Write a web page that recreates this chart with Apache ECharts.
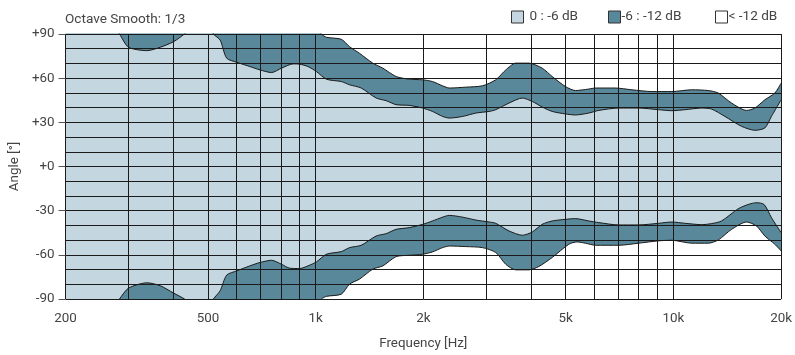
<!DOCTYPE html>
<html><head><meta charset="utf-8">
<script src="https://cdn.jsdelivr.net/npm/echarts@6/dist/echarts.min.js"></script>
<style>html,body{margin:0;padding:0;background:#fff}#c{width:795px;height:355px}</style>
</head><body><div id="c"></div>
<script>
// Upper -12 dB contour
const u12Freq  = [200,1000,1038,1072,1180,1244,1326,1445,1541,1679,1828,1991,2122,2264,2364,2630,2926,3188,3400,3624,3948,4298,4585,4994,5326,5800,6055,6884,7656,8706,9898,11252,12522,13350,14540,16014,16896,18014,19210,20000];
const u12Angle = [100,95,90,87.8,86.4,81.4,76.9,70.2,66.8,61.1,59.3,58.9,57.7,54.8,53.3,53.9,54.8,58.9,65.6,70.2,70.2,66.8,61.1,54.3,51.6,52.6,53.3,53.3,52.1,50.9,50.9,52.1,51.6,49.9,43.1,38.1,39.7,45.3,49.9,56.6];
// Upper -6 dB contour
const u6Freq  = [200,270,283,300,338,368,401,430,470,500,518,541,564,602,655,699,753,803,865,903,952,1005,1072,1180,1244,1341,1477,1575,1679,1828,1991,2122,2264,2364,2575,2806,3054,3188,3473,3782,4032,4298,4585,4994,5326,5800,6186,7033,7993,9088,9898,10786,11996,12790,13936,15502,16896,18014,18794,20000];
const u6Angle = [100,97,90,81.0,78.7,81.0,84.8,90,97,97,90,85.9,73.6,70.8,67.9,65.6,63.8,66.8,69.7,69.5,67.9,64.5,59.3,57.7,55.5,53.3,46.5,44.7,42.0,41.5,39.7,37.4,34.0,32.9,34.0,36.3,37.4,38.6,43.1,46.5,44.2,40.4,37.4,35.7,35.0,36.3,38.1,39.7,39.7,38.6,37.9,38.6,39.7,39.0,34.0,27.3,24.6,26.2,34.0,45.3];
// Lower -6 dB contour
const l6Freq  = [200,270,283,300,338,368,401,430,470,500,518,541,564,602,655,699,753,803,847,903,952,1005,1072,1180,1244,1341,1477,1575,1679,1828,1991,2122,2264,2364,2575,2806,3054,3188,3473,3782,4032,4298,4585,4994,5326,5800,6186,7033,7993,9088,9898,10786,11996,12790,13636,15176,16186,17070,17932,18794,20000];
const l6Angle = [-100,-97,-90,-82.6,-79.0,-81.0,-86.0,-90,-97,-97,-90,-84.4,-73.8,-70.9,-67.5,-65.2,-63.7,-66.4,-69.1,-69.3,-67.5,-64.8,-59.6,-57.8,-55.1,-53.5,-47.2,-45.6,-42.7,-41.5,-39.3,-37.0,-34.4,-33.2,-34.4,-36.4,-37.7,-38.6,-43.8,-46.7,-44.5,-39.3,-37.0,-35.9,-35.4,-37.0,-38.1,-39.7,-39.7,-38.6,-37.7,-38.6,-39.5,-38.8,-37.0,-28.7,-25.8,-24.6,-25.8,-34.7,-44.9];
// Lower -12 dB contour
const l12Freq  = [200,1000,1038,1072,1180,1244,1326,1445,1541,1679,1828,1991,2122,2264,2364,2630,2926,3188,3400,3624,3948,4208,4585,5102,5382,5679,6055,7033,7993,9088,9898,11252,12522,13350,14540,16014,17070,18014,19210,20000];
const l12Angle = [-100,-95,-90,-88.2,-86.7,-79.9,-76.5,-69.7,-67.5,-61.2,-60.3,-59.6,-58.0,-55.1,-54.0,-54.4,-55.1,-58.4,-66.4,-70.2,-70.2,-67.9,-61.8,-52.8,-51.2,-52.1,-53.5,-53.5,-52.1,-50.5,-50.1,-52.1,-52.1,-49.9,-42.7,-37.7,-40.4,-47.2,-52.8,-57.3];

const gridFreqs  = [200,300,400,500,600,700,800,900,1000,2000,3000,4000,5000,6000,7000,8000,9000,10000,20000];
const labelFreqs = [200,500,1000,2000,5000,10000,20000];
const angleLabels = ['-90','-60','-30','+0','+30','+60','+90'];
const legendNames = ['0 : -6 dB','-6 : -12 dB','< -12 dB'];

const LIGHT = '#c4d6e0', DARK = '#588899', WHITE = '#ffffff', LINE = '#1a1a1a';
const FONT = 'Roboto';
const zip = (a, b) => a.map((v, i) => [v, b[i]]);

function band(name, f, a, fill) {
  return {
    type: 'line', name: name, data: zip(f, a), showSymbol: false, smooth: 0.25,
    clip: true, z: 2,
    lineStyle: { color: LINE, width: 1 },
    itemStyle: { color: fill },
    areaStyle: { color: fill, opacity: 1, origin: 'start' }
  };
}

const chart = echarts.init(document.getElementById('c'), null, { renderer: 'canvas' });
chart.setOption({
  animation: false,
  backgroundColor: '#fff',
  textStyle: { fontFamily: FONT },
  grid: { left: 65, right: 12, top: 34, bottom: 55 },
  title: { text: 'Octave Smooth: 1/3', left: 60, top: 8,
    textStyle: { fontFamily: FONT, fontSize: 13.6, fontWeight: 'normal', color: '#444' } },
  legend: legendNames.map((n, i) => ({
    left: [511, 608, 715][i], top: 10, padding: 0, itemWidth: 12, itemHeight: 12, itemGap: 4,
    selectedMode: false,
    textStyle: { fontFamily: FONT, fontSize: 13.6, color: '#444', padding: [0, 0, 0, i === 0 ? 1 : -4] },
    data: [{ name: n, icon: 'rect',
      itemStyle: { color: [LIGHT, DARK, WHITE][i], borderColor: '#333', borderWidth: 1 } }]
  })),
  xAxis: {
    type: 'log', logBase: 10, min: 200, max: 20000, z: 5,
    name: 'Frequency [Hz]', nameLocation: 'middle', nameGap: 38,
    nameTextStyle: { fontFamily: FONT, fontSize: 13.4, color: '#444' },
    axisLine: { show: false },
    axisTick: { show: true, customValues: gridFreqs, length: 3, lineStyle: { color: LINE } },
    axisLabel: { customValues: labelFreqs, margin: 13, fontFamily: FONT, fontSize: 13.4, color: '#444',
      formatter: v => v >= 1000 ? (v / 1000) + 'k' : String(v) },
    splitLine: { show: true, lineStyle: { color: LINE, width: 1 } }
  },
  yAxis: [
    { type: 'value', min: -90, max: 90, interval: 10, z: 5,
      axisLine: { show: false }, axisTick: { show: false }, axisLabel: { show: false },
      splitLine: { show: true, lineStyle: { color: LINE, width: 1 } } },
    { type: 'value', min: -90, max: 90, interval: 30, position: 'left', z: 5,
      name: 'Angle [°]', nameLocation: 'middle', nameGap: 43, nameRotate: 90,
      nameTextStyle: { fontFamily: FONT, fontSize: 13.4, color: '#444' },
      axisLine: { show: false },
      axisTick: { show: true, length: 7, lineStyle: { color: '#555' } },
      axisLabel: { margin: 11, fontFamily: FONT, fontSize: 13.4, color: '#444',
        formatter: v => angleLabels[Math.round((v + 90) / 30)] },
      splitLine: { show: false } }
  ],
  series: [
    band('-6 : -12 dB', u12Freq, u12Angle, DARK),
    band('0 : -6 dB', u6Freq, u6Angle, LIGHT),
    band('lower -6', l6Freq, l6Angle, DARK),
    band('< -12 dB', l12Freq, l12Angle, WHITE)
  ]
});
</script></body></html>
